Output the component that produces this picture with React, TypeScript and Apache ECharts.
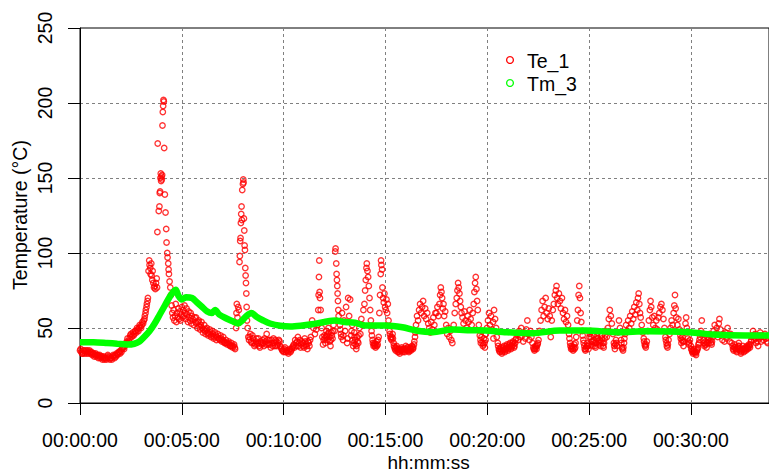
import React, { useEffect, useRef } from 'react';
import * as echarts from 'echarts';

// ---- data (time in seconds, temperature in degrees C) ----
const yTickValues = [0, 50, 100, 150, 200, 250];
const xTickStepSeconds = 300;
const seriesNames = ['Te_1', 'Tm_3'];

const te1Part1: number[][] = [
  [0,35],[4,34],[8,33],[12,35],[16,34],[20,33],[24,34],[28,35],[32,33],[36,32],[40,33],[44,32],[48,31],[52,32],[56,31],[60,30],[64,31],[68,30],[72,29],[76,30],[80,31],[84,30],[88,29],[92,30],[96,31],[100,31],[104,32],[108,33],[112,33],[116,34],[120,35],[124,36],[128,37],[132,38],[136,40],[140,43],[144,41],[148,45],[152,44],[156,47],[160,46],[164,48],[168,50],[172,48],[176,52],[180,50],[184,54],[188,55],[191,58],[194,62],[197,66],[200,70],
  [202,88],[204,95],[205,92],[207,90],[208,86],[210,93],[211,85],[213,82],[214,88],[216,80],[218,77],[220,78],[222,76],[224,80],[226,83],[227,77],
  [228,114],[229,173],[232,128],[234,131],[235,140],[236,141],[237,150],[238,153],[239,148],[240,151],[241,149],[242,152],[243,185],[244,194],[245,198],[246,202],[247,201],[248,170],[250,139],[252,127],[254,116],[255,107],[257,100],[258,97],[260,93],[261,89],[262,86],[264,81],[266,77],[268,72],[270,65],[272,60],[274,57],
  [276,62],[278,55],[280,58],[282,66],[284,54],[286,60],[288,57],[290,63],[292,56],[294,61],[296,55],[298,59],[300,64],[302,57],[304,62],[306,58],[308,65],[310,60],[312,56],[314,63],[316,59],[318,54],[320,61],[322,57],[324,55],[326,60],[328,53],[330,58],[332,56],[335,52],[338,57],[340,54],
  [342,57],[346,50],[350,55],[354,49],[358,54],[362,47],[366,52],[370,46],[374,50],[378,45],[382,49],[386,44],[390,48],[394,43],[398,47],[402,42],[406,46],[410,43],[414,45],[418,41],[422,44],[426,40],[430,42],[434,39],[438,41],[442,38],[446,40],[450,37],[454,39],[457,36],
  [460,50],[461,60],[462,66],[464,57],[466,64],[468,62],[470,94],[471,98],[472,108],[473,110],[474,120],[475,126],[476,131],[477,122],[478,142],[480,146],[481,149],[482,147],[483,123],[484,115],[485,105],[486,102],[487,90],[488,85],[489,80],[490,73],[491,64],[492,55],[494,50],[496,44],
];

const te1Part2: number[][] = [
  [498,42],[502,46],[506,40],[510,43],[514,38],[518,41],[522,39],[526,43],[530,37],[534,40],[538,42],[542,38],[546,41],[550,46],[554,39],[558,42],[562,37],[566,40],[570,43],[574,38],[578,41],[582,39],[586,42],[590,38],[594,36],[598,35],[602,36],[606,34],[610,35],[614,33],[618,36],[622,35],[626,37],[630,39],[634,42],[638,38],[642,44],[646,40],[650,37],[654,41],[658,38],[662,43],[666,39],[670,36],[674,40],[678,42],
  [684,55],[688,50],[692,46],[696,49],[700,52],[702,62],[703,72],[704,84],[705,95],[706,74],[707,70],[709,62],[712,50],[714,44],[716,39],[718,42],
  [720,45],[723,40],[726,48],[729,42],[732,50],[735,44],[738,38],[741,47],[744,43],[747,52],[750,48],
  [752,101],[753,103],[755,93],[756,86],[757,82],[758,78],[759,73],[760,68],[761,62],[762,58],
  [766,52],[769,46],[772,60],[775,42],[778,55],[781,48],[784,64],[787,40],[790,70],[793,58],[796,69],[799,45],[802,52],[805,38],[808,47],[811,42],[814,36],[817,44],[820,40],[823,50],[826,46],[829,56],[832,52],[835,62],
  [838,66],[840,75],[842,82],[844,90],[845,93],[847,88],[849,84],[851,78],[853,70],[855,62],[857,55],
  [859,48],[862,42],[865,38],[868,40],[871,37],[874,41],[877,39],[880,44],
  [882,60],[884,72],[886,86],[887,95],[888,92],[890,89],[891,77],[893,70],[895,67],[897,73],[899,64],[901,62],[903,69],[905,60],[907,66],[909,55],
  [912,48],[915,44],[918,42],[921,46],[924,40],[927,37],[930,35],[933,38],[936,34],[939,36],[942,33],[945,35],[948,37],[951,34],[954,36],[957,34],[960,38],[963,35],[966,37],[969,34],[972,36],[975,35],[978,38],[981,36],[984,39],[987,44],
];

const te1Part3: number[][] = [
  [990,52],[993,58],[996,55],[999,62],[1002,66],[1005,60],[1008,64],[1011,68],[1014,58],[1017,63],[1020,56],[1023,60],[1026,53],
  [1029,50],[1032,47],[1035,54],[1038,49],[1041,57],[1044,52],[1047,60],
  [1050,60],[1053,64],[1056,58],[1059,66],[1061,72],[1063,77],[1065,74],[1067,70],[1069,63],[1071,66],[1073,58],[1076,61],
  [1079,52],[1082,46],[1085,50],[1088,44],[1091,48],[1094,42],[1097,40],
  [1101,52],[1104,60],[1107,66],[1110,70],[1112,75],[1114,80],[1116,77],[1118,73],[1120,68],[1122,64],[1124,60],
  [1127,57],[1130,53],[1133,61],[1136,55],[1139,50],[1142,58],[1145,54],[1148,62],[1151,56],[1154,52],[1157,60],
  [1160,66],[1162,74],[1164,80],[1166,84],[1168,76],[1170,68],[1172,62],
  [1175,52],[1178,45],[1181,40],[1184,48],[1187,38],[1190,43],[1193,37],[1196,46],[1199,50],
  [1202,55],[1205,60],[1208,52],[1211,58],[1214,49],[1217,54],[1218,43],[1220,62],[1223,56],[1226,50],[1228,44],
  [1231,40],[1234,36],[1237,34],[1240,37],[1243,33],[1246,35],[1249,38],[1252,34],[1255,36],[1258,39],[1261,35],[1264,37],[1267,40],[1270,36],[1273,38],[1276,41],[1279,37],[1282,40],[1285,43],
  [1288,46],[1291,42],[1294,48],[1297,44],[1300,50],[1303,45],[1306,41],[1309,47],[1312,43],[1315,49],[1318,55],[1321,46],[1324,42],[1327,48],[1330,44],[1333,40],
  [1336,37],[1339,35],[1342,38],[1345,36],[1348,39],[1351,42],
  [1354,48],[1357,55],[1360,62],[1363,68],[1366,58],[1369,64],[1372,70],[1375,60],[1378,56],[1381,63],[1384,58],[1387,44],[1390,55],[1393,62],[1396,66],[1399,72],[1402,75],[1404,78],[1406,70],[1408,66],[1411,73],[1414,68],[1417,63],[1420,70],[1423,60],[1426,56],[1429,62],[1432,54],[1435,58],[1438,52],
  [1441,46],[1444,40],[1447,36],[1450,38],[1453,35],[1456,39],[1459,37],[1462,44],
  [1465,55],[1467,62],[1469,72],[1471,78],[1473,70],[1475,60],[1477,54],
];

const te1Part4: number[][] = [
  [1480,48],[1483,42],[1486,38],[1489,35],[1492,37],[1495,40],[1498,36],[1501,44],[1504,48],[1507,41],[1510,38],[1513,45],[1516,40],[1519,37],[1522,43],[1525,47],[1528,39],[1531,42],[1534,38],[1537,45],[1540,40],[1543,37],[1546,43],[1549,48],
  [1552,44],[1555,50],[1558,56],[1561,62],[1564,58],[1567,53],[1570,46],[1573,40],[1576,36],[1579,42],[1582,38],[1585,47],[1588,55],[1591,50],[1594,42],[1597,37],[1600,35],[1603,40],
  [1606,46],[1609,52],[1612,48],[1615,55],[1618,50],[1621,58],[1624,53],[1627,61],[1630,56],[1633,64],[1636,59],[1639,67],[1642,62],[1644,70],[1646,73],[1648,66],[1650,60],[1652,57],[1655,52],[1658,47],
  [1661,43],[1664,39],[1667,37],[1670,41],
  [1673,48],[1676,55],[1679,62],[1681,68],[1683,64],[1686,57],[1689,52],[1692,58],[1695,50],[1698,55],[1701,49],[1704,57],[1707,60],[1710,64],[1713,66],[1716,62],[1719,56],[1722,50],[1725,44],[1728,40],[1731,37],[1734,42],
  [1737,46],[1740,50],[1743,55],[1746,52],[1749,60],[1751,65],[1753,72],[1755,63],[1757,57],[1760,52],[1763,56],[1766,49],
  [1769,45],[1772,40],[1775,44],[1778,38],[1781,47],[1784,53],[1786,57],[1788,50],[1791,43],[1794,39],[1797,42],
  [1800,38],[1803,35],[1806,33],[1809,36],[1812,34],[1815,32],[1818,35],[1821,37],[1824,40],[1827,44],[1830,48],[1832,55],[1834,46],
  [1837,42],[1840,38],[1843,41],[1846,37],[1849,44],[1852,40],[1855,46],[1858,42],[1861,39],[1864,44],
  [1867,48],[1870,52],[1873,46],[1876,50],[1879,44],[1882,53],[1884,56],[1887,49],[1890,45],[1893,42],
  [1896,46],[1899,41],[1902,47],[1905,43],[1908,50],[1911,45],[1914,41],[1917,46],[1920,40],
  [1923,38],[1926,35],[1929,39],[1932,36],[1935,34],[1938,37],[1941,40],[1944,36],[1947,33],[1950,35],[1953,38],[1956,34],[1959,36],[1962,35],[1965,38],[1968,36],[1971,39],[1974,37],[1977,41],[1980,44],
  [1983,48],[1986,42],[1989,46],[1992,40],[1995,44],[1998,38],[2001,43],[2004,47],[2007,41],[2010,45],[2014,42],[2018,46],[2022,43],[2026,40],
];

// extra readings in the dense low bands
const te1Dense: number[][] = [
  [2,36],[6,33],[10,35],[14,33],[18,35],[22,35],[26,33],[30,34],[34,34],[38,33],[42,31],[46,33],[50,32],[54,30],[58,32],[62,31],[66,29],[70,31],[74,30],[78,29],[82,32],[86,31],[90,30],[94,29],[98,32],[102,30],[106,31],[110,32],[114,34],[118,33],[122,34],[126,37],[130,36],[134,39],[138,41],[142,40],[146,43],[150,46],[154,45],[158,45],[162,48],[166,47],[170,49],[174,50],[178,51],[182,52],[186,53],[190,56],[193,60],[196,64],[199,68],
  [344,53],[348,54],[352,51],[356,52],[360,50],[364,49],[368,48],[372,49],[376,47],[380,46],[384,47],[388,45],[392,46],[396,44],[400,45],[404,44],[408,43],[412,42],[416,43],[420,42],[424,41],[428,40],[432,40],[436,40],[440,39],[444,38],[448,38],[452,38],[456,37],
  [500,44],[504,41],[508,45],[512,40],[516,39],[520,43],[524,40],[528,38],[532,41],[536,39],[540,40],[544,43],[548,39],[552,42],[556,40],[560,39],[564,42],[568,38],[572,40],[576,42],[580,38],[584,40],[588,41],[592,37],[596,35],[600,34],[604,37],[608,35],[612,34],[616,35],[620,34],[624,36],[628,38],[632,37],[636,40],[640,41],[644,38],[648,42],[652,39],[656,40],[660,37],[664,41],[668,38],[672,41],[676,38],[680,44],
  [721,43],[724,44],[727,45],[730,46],[733,47],[736,41],[739,42],[742,45],[745,48],
  [767,49],[770,44],[776,45],[788,43],[800,48],[803,42],[806,40],[809,44],[812,39],[815,38],[818,41],[821,45],
  [860,45],[863,40],[866,39],[869,38],[872,39],[875,38],[878,42],
  [913,46],[916,43],[919,44],[922,43],[925,38],[928,36],[931,37],[934,36],[937,35],[940,34],[943,35],[946,36],[949,35],[952,36],[955,35],[958,36],[961,36],[964,37],[967,35],[970,35],[973,37],[976,36],[979,37],[982,37],[985,41],[988,47],
  [1180,42],[1183,44],[1186,40],[1189,39],[1192,40],[1195,42],
  [1232,38],[1235,35],[1238,36],[1241,35],[1244,34],[1247,37],[1250,36],[1253,35],[1256,38],[1259,37],[1262,36],[1265,39],[1268,38],[1271,37],[1274,40],[1277,39],[1280,38],[1283,42],
  [1337,36],[1340,36],[1343,37],[1346,38],[1349,40],
  [1442,43],[1445,38],[1448,37],[1451,36],[1454,37],[1457,36],[1460,40],
  [1481,45],[1484,40],[1487,36],[1490,36],[1493,38],[1496,38],[1499,39],[1502,46],[1505,44],[1508,39],[1511,41],[1514,42],[1517,38],[1520,40],[1523,45],[1526,43],[1529,41],[1532,40],[1535,41],[1538,43],[1541,38],[1544,40],[1547,45],
  [1574,38],[1577,39],[1580,40],[1595,40],[1598,36],[1601,37],[1604,43],
  [1662,41],[1665,38],[1668,39],[1726,42],[1729,38],[1732,39],
  [1770,43],[1773,42],[1776,41],[1779,41],[1792,41],[1795,40],
  [1801,36],[1804,34],[1807,35],[1810,34],[1813,33],[1816,34],[1819,36],[1822,39],[1825,42],[1828,46],
  [1838,40],[1841,39],[1844,39],[1847,40],[1850,42],[1853,43],[1859,40],[1862,41],
  [1924,36],[1927,37],[1930,37],[1933,35],[1936,36],[1939,38],[1942,38],[1945,35],[1948,34],[1951,36],[1954,36],[1957,35],[1960,37],[1963,36],[1966,37],[1969,37],[1972,38],[1975,39],[1978,42],
  [1984,45],[1990,43],[1996,41],[2002,45],[2008,44],[2016,44],[2024,41],
];

const tm3: number[][] = [
  [0,40.5],[40,40.5],[80,40],[110,39.5],[140,39],[160,39.5],[175,41],[189,44],[205,48],[220,53],[235,59],[250,65],[265,71],[276,74.5],[282,75.5],[290,71.5],[300,69],[312,70.5],[330,70],[345,67],[360,64],[375,61],[388,60],[398,62],[410,59],[430,56.5],[450,54.5],[466,53],[478,55],[490,58],[505,60],[520,57.5],[540,55],[560,53],[590,51.5],[620,51],[650,51.5],[683,52.5],[720,54],[752,55],[780,54],[810,53.5],[840,51.7],[900,51.7],[950,50.5],[990,48.3],[1039,47.2],[1097,49],[1150,48.5],[1194,48.3],[1257,47.2],[1334,46.5],[1413,48.3],[1491,48.3],[1587,47.2],[1669,47.8],[1796,47.2],[1864,45.7],[1960,45],[2030,45],
];

const te1 = [...te1Part1, ...te1Part2, ...te1Part3, ...te1Part4, ...te1Dense];

const pad = (n: number) => (n < 10 ? '0' + n : '' + n);
const hms = (sec: number) => {
  const h = Math.floor(sec / 3600);
  const m = Math.floor((sec % 3600) / 60);
  const s = Math.round(sec % 60);
  return `${pad(h)}:${pad(m)}:${pad(s)}`;
};

const FONT = 'Liberation Sans, Arial, Helvetica, sans-serif';
const RED = '#ff0000';
const GREEN = '#00ff00';

export default function App() {
  const ref = useRef<HTMLDivElement>(null);
  useEffect(() => {
    if (!ref.current) return;
    const chart = echarts.init(ref.current, null, { renderer: 'svg' });
    const gridLine = { show: true, showMinLine: false, showMaxLine: false, lineStyle: { color: '#808080', type: [3, 3], width: 1 } };
    chart.setOption({
      animation: false,
      backgroundColor: '#ffffff',
      grid: { left: 80, top: 28, right: -8, bottom: 69, show: true, borderColor: '#000', borderWidth: 1, backgroundColor: 'transparent' },
      xAxis: {
        type: 'value', min: 0, max: 2030, interval: xTickStepSeconds,
        axisLine: { show: true, lineStyle: { color: '#000', width: 1 } },
        axisTick: { show: true, length: 12, lineStyle: { color: '#000', width: 1 } },
        axisLabel: { showMaxLabel: false, margin: 27, color: '#000', fontSize: 19.5, fontFamily: FONT, formatter: (v: number) => hms(v) },
        splitLine: gridLine,
      },
      yAxis: {
        type: 'value', min: yTickValues[0], max: yTickValues[yTickValues.length - 1], interval: 50,
        axisLine: { show: true, lineStyle: { color: '#000', width: 1 } },
        axisTick: { show: true, length: 12, lineStyle: { color: '#000', width: 1 } },
        axisLabel: { show: false },
        splitLine: gridLine,
      },
      series: [
        {
          name: seriesNames[0], type: 'scatter', data: te1, symbol: 'circle', symbolSize: 5.5,
          itemStyle: { color: 'rgba(0,0,0,0)', borderColor: RED, borderWidth: 1.3 }, z: 2,
        },
        {
          name: seriesNames[1], type: 'line', data: tm3, showSymbol: false, smooth: 0.3,
          lineStyle: { color: GREEN, width: 6.5 }, z: 3,
        },
      ],
    });

    // vertical y tick labels placed with the axis scale
    const yLabels = yTickValues.map((v) => {
      const py = chart.convertToPixel({ yAxisIndex: 0 }, v) as number;
      return {
        type: 'text', x: 44.5, y: py, rotation: Math.PI / 2, z: 10,
        style: { text: String(v), fill: '#000', fontSize: 19.5, fontFamily: FONT, align: 'center', verticalAlign: 'middle' },
      };
    });

    chart.setOption({
      graphic: [
        ...yLabels,
        { type: 'circle', shape: { cx: 510, cy: 60, r: 3.4 }, style: { fill: 'none', stroke: RED, lineWidth: 1.3 }, z: 10 },
        { type: 'text', x: 527, y: 61, style: { text: seriesNames[0], fill: '#000', fontSize: 19.5, fontFamily: FONT, verticalAlign: 'middle' }, z: 10 },
        { type: 'circle', shape: { cx: 510, cy: 83, r: 3.4 }, style: { fill: 'none', stroke: GREEN, lineWidth: 1.3 }, z: 10 },
        { type: 'text', x: 527, y: 84, style: { text: seriesNames[1], fill: '#000', fontSize: 19.5, fontFamily: FONT, verticalAlign: 'middle' }, z: 10 },
        { type: 'text', x: 20, y: 215, rotation: Math.PI / 2, style: { text: 'Temperature (°C)', fill: '#000', fontSize: 19.5, fontFamily: FONT, align: 'center', verticalAlign: 'middle' }, z: 10 },
        { type: 'text', x: 428.6, y: 462, style: { text: 'hh:mm:ss', fill: '#000', fontSize: 19, fontFamily: FONT, align: 'center', verticalAlign: 'middle' }, z: 10 },
      ],
    });
    return () => chart.dispose();
  }, []);
  return <div ref={ref} style={{ position: 'fixed', left: 0, top: 0, width: 769, height: 472 }} />;
}
